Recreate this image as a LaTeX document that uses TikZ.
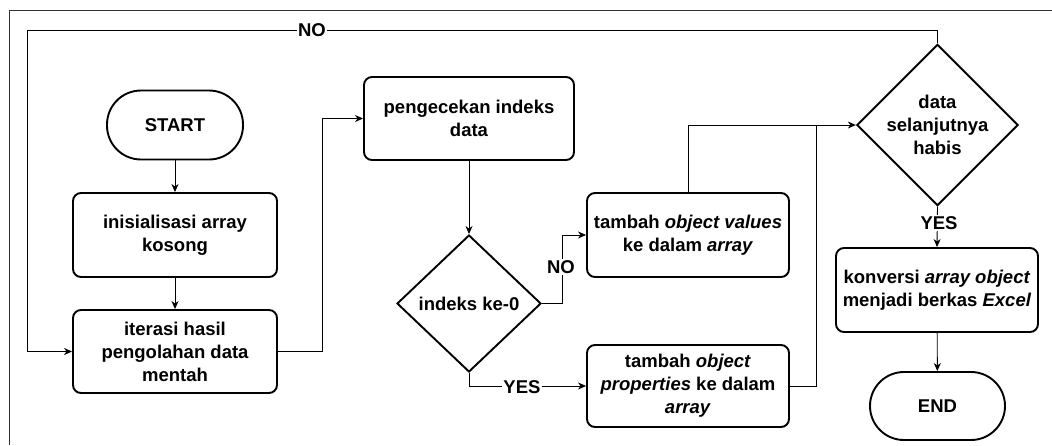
\documentclass[tikz,border=0pt]{standalone}
\usepackage{fontspec}
\setmainfont{Liberation Sans}
\usetikzlibrary{arrows.meta,shapes.geometric}
\begin{document}
\begin{tikzpicture}[x=1pt,y=-1pt,
  every node/.style={font=\fontsize{18.5}{23}\selectfont\bfseries, align=center, inner sep=0pt},
  box/.style={draw, line width=1.9pt, rounded corners=8pt, minimum width=#1, minimum height=84pt},
  box/.default=204pt,
  term/.style={draw, line width=1.9pt, rounded corners=34pt, minimum width=136pt, minimum height=69pt},
  conn/.style={line width=0.9pt},
  arr/.style={conn, -{Stealth[length=8pt,width=7pt,inset=2.5pt]}},
  lbl/.style={fill=white, inner sep=1pt}
]
\useasboundingbox (0,0) rectangle (1052,445);
\fill[white] (0,0) rectangle (1052,445);
\draw[line width=1pt, black!80] (9,445) -- (9,10) -- (1052,10);

\node[term] (start) at (175,125) {START};
\node[box] (init) at (175,235) {inisialisasi array\\kosong};
\node[box, minimum height=83pt] (iter) at (175,351.5) {iterasi hasil\\pengolahan data\\mentah};
\node[box=210pt, minimum height=83pt] (cek) at (469,118.5) {pengecekan indeks\\data};
\node[draw, line width=1.9pt, diamond, minimum width=144pt, minimum height=137pt] (d1) at (469,303.5) {indeks ke-0};
\node[box=202pt] (val) at (688,235) {tambah \textit{object values}\\ke dalam \textit{array}};
\node[box=202pt, minimum height=82pt] (prop) at (688,386) {tambah \textit{object}\\\textit{properties} ke dalam\\\textit{array}};
\node[draw, line width=1.9pt, diamond, minimum width=135pt, minimum height=136pt] (d2) at (937.5,125) {data\\selanjutnya\\habis};
\node[box=202pt] (konv) at (937,290) {konversi \textit{array object}\\menjadi berkas \textit{Excel}};
\node[term, minimum width=135pt, minimum height=68pt] (end) at (937.5,406) {END};

\coordinate (tl) at (27,30);
\coordinate (jn) at (816,125);

\draw[arr] (start) -- (init);
\draw[arr] (init) -- (iter);
\draw[arr] (iter.east) -- ++(44,0) |- (cek.west);
\draw[arr] (cek) -- (d1);
\draw[arr] (d1.east) -- ++(20,0) |- (val.west);
\draw[arr] (d1.south) |- (prop.west);
\draw[arr] (val.north) |- (d2.west);
\draw[conn] (prop.east) -| (jn);
\draw[arr] (d2.north) |- (tl) |- (iter.west);
\draw[arr] (d2.south) -- (konv.north);
\draw[arr] (konv) -- (end);

\node[lbl] (no1) at (561,267) {NO};
\node[lbl] (yes1) at (522,387) {YES};
\node[lbl] (no2) at (312,30) {NO};
\node[lbl] (yes2) at (939,223) {YES};
\end{tikzpicture}
\end{document}
